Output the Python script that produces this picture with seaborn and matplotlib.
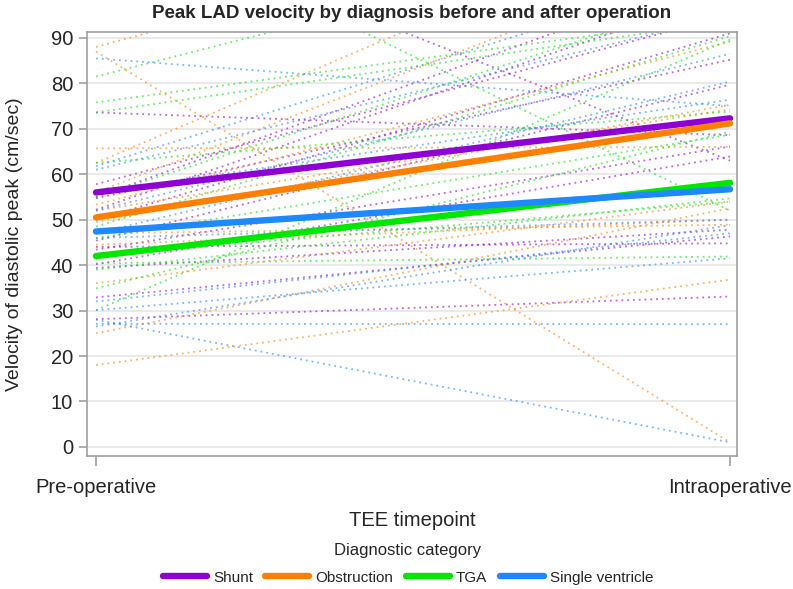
import numpy as np
import pandas as pd
import matplotlib
matplotlib.use("Agg")
import matplotlib.pyplot as plt
from matplotlib.lines import Line2D
import seaborn as sns

# ---- data ----
categories = ["Shunt", "Obstruction", "TGA", "Single ventricle"]
timepoints = ["Pre-operative", "Intraoperative"]

shunt_pre = [118, 73.6, 57.8, 54.7, 52.2, 45.4, 43.4, 40.2, 39.4, 32.9, 28.1, 44, 50, 55]
shunt_post = [63, 68.6, 95, 85.2, 100, 79.7, 66.1, 63.9, 47.8, 46.3, 33.1, 44.8, 91, 105]

obstr_pre = [88, 87, 65.7, 62.5, 53.3, 49.5, 44.5, 36, 25, 18, 56, 52, 47]
obstr_post = [126, 1, 66, 122, 89.2, 75.3, 50, 54, 52.5, 36.8, 110, 74.3, 48.9]

tga_pre = [120, 81.5, 75.8, 73.6, 62.5, 48.5, 45.9, 40.4, 39, 34.9, 30.1, 55, 42]
tga_post = [52, 117, 94.6, 93.7, 73.8, 90.4, 68.7, 41.9, 54.7, 69.4, 89.6, 100, 54]

sv_pre = [85.5, 61.8, 61, 47, 46, 32, 30.1, 27.1, 28, 26.5, 52, 56]
sv_post = [75, 105, 95, 80.4, 50, 47, 41.5, 27, 1, 48.8, 86.5, 76.4]

mean_pre = [56, 50.5, 42, 47.4]
mean_post = [72.3, 71.2, 58.1, 56.7]

colors = ["#8E00D4", "#FF8000", "#00E800", "#1E88FF"]
# ---------------------------------------

groups = {
    "Shunt": (shunt_pre, shunt_post),
    "Obstruction": (obstr_pre, obstr_post),
    "TGA": (tga_pre, tga_post),
    "Single ventricle": (sv_pre, sv_post),
}
rows = []
pid = 0
for cat, (pre, post) in groups.items():
    for a, b in zip(pre, post):
        rows.append((pid, 0, a, cat))
        rows.append((pid, 1, b, cat))
        pid += 1
df = pd.DataFrame(rows, columns=["id", "tp", "vel", "diag"])

mrows = []
for cat, a, b in zip(categories, mean_pre, mean_post):
    mrows.append((cat, 0, a))
    mrows.append((cat, 1, b))
mdf = pd.DataFrame(mrows, columns=["diag", "tp", "vel"])

sns.set_style("white")
plt.rcParams["font.family"] = ["Liberation Sans", "DejaVu Sans"]
palette = dict(zip(categories, colors))

fig = plt.figure(figsize=(7.93, 5.89), dpi=100)
ax = fig.add_axes([87 / 793, 1 - 456 / 589, 650 / 793, 424 / 589])

ax.set_ylim(-2, 91.3)
ax.set_xlim(-0.0142, 1.011)
ax.set_yticks(range(0, 91, 10))
ax.yaxis.grid(True, color="#E6E6E6", lw=1.2)
ax.set_axisbelow(True)

sns.lineplot(data=df, x="tp", y="vel", hue="diag", units="id", estimator=None,
             palette=palette, hue_order=categories, lw=1.3, alpha=0.6,
             dashes=False, legend=False, ax=ax)
for ln in ax.get_lines():
    ln.set_dashes((1, 2.2))

sns.lineplot(data=mdf, x="tp", y="vel", hue="diag", palette=palette,
             hue_order=categories, lw=4.6, legend=False, ax=ax)

for s in ax.spines.values():
    s.set_color("#A0A0A0")
    s.set_linewidth(1.2)

ax.set_xticks([0, 1])
ax.set_xticklabels(timepoints, fontsize=14.5)
ax.tick_params(axis="x", length=7, color="#A0A0A0", width=1.2, pad=9, bottom=True)
ax.tick_params(axis="y", length=6, color="#A0A0A0", width=1.2, labelsize=14.5, left=True, pad=4)
ax.set_xlabel("TEE timepoint", fontsize=14.5, labelpad=10)
ax.set_ylabel("Velocity of diastolic peak (cm/sec)", fontsize=14, labelpad=20)
ax.set_title("Peak LAD velocity by diagnosis before and after operation",
             fontsize=13.5, fontweight="bold", pad=10)

handles = [Line2D([0], [0], color=c, lw=4.6) for c in colors]
leg = fig.legend(handles, categories, title="Diagnostic category", loc="center",
                 bbox_to_anchor=(408 / 793, 1 - 564 / 589), ncol=4, frameon=False,
                 fontsize=11, title_fontsize=12, handlelength=2.9, handletextpad=0.4,
                 columnspacing=0.8, borderpad=0, labelspacing=0.2)
leg._legend_box.sep = 9

fig.savefig("out.png", dpi=100)
